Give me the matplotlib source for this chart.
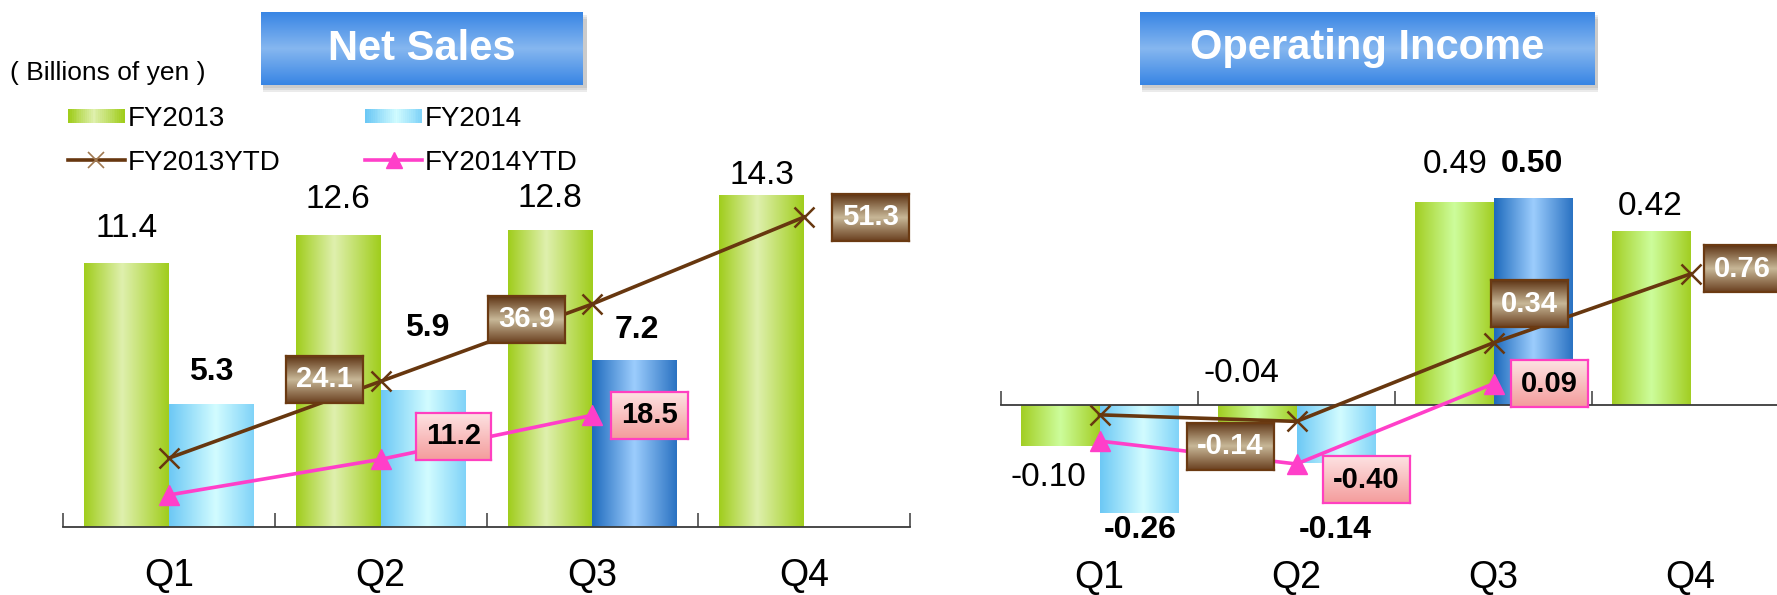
import numpy as np
import matplotlib
matplotlib.use('Agg')
import matplotlib.pyplot as plt
from matplotlib.colors import LinearSegmentedColormap
from matplotlib.patches import Rectangle, Patch
from matplotlib.lines import Line2D
from matplotlib.legend_handler import HandlerBase

plt.rcParams['font.family'] = ['Liberation Sans', 'DejaVu Sans']

quarters = ['Q1', 'Q2', 'Q3', 'Q4']

# net sales (billions of yen)
sales_fy13 = [11.4, 12.6, 12.8, 14.3]
sales_fy14 = [5.3, 5.9, 7.2]
sales_ytd13 = [11.4, 24.1, 36.9, 51.3]
sales_ytd14 = [5.3, 11.2, 18.5]

# operating income (billions of yen)
op_fy13 = [-0.10, -0.04, 0.49, 0.42]
op_fy14 = [-0.26, -0.14, 0.50]
op_ytd13 = [-0.10, -0.14, 0.34, 0.76]
op_ytd14 = [-0.26, -0.40, 0.09]

W, H = 1777, 595
BROWN = '#67370f'
PINK = '#ff3fc9'


def cmap(*stops):
    return LinearSegmentedColormap.from_list('', list(stops))


green_cm = cmap((0, '#a0cd1c'), (0.45, '#dff0ae'), (1, '#a0cd1c'))
green2_cm = cmap((0, '#a2ce22'), (0.5, '#cdfd9c'), (1, '#a2ce22'))
blue_cm = cmap((0, '#6cc8f5'), (0.55, '#d2fcff'), (1, '#80d3f8'))
dblue_cm = cmap((0, '#1d6abd'), (0.5, '#9ccdfd'), (1, '#2a72c2'))
title_cm = cmap((0, '#3885e4'), (0.5, '#86b7f0'), (1, '#3885e4'))
brown_cm = cmap((0, '#5e3414'), (0.5, '#c8b898'), (1, '#6a4020'))
pink_cm = cmap((0, '#fde2e2'), (1, '#f49c9c'))

hgrad = np.linspace(0, 1, 256).reshape(1, -1)
vgrad = np.linspace(0, 1, 128).reshape(-1, 1)

fig = plt.figure(figsize=(W / 100, H / 100), dpi=100)
renderer = fig.canvas.get_renderer()


class GradientPatchHandler(HandlerBase):
    def __init__(self, cm, n=30):
        super().__init__()
        self.cm = cm
        self.n = n

    def create_artists(self, legend, orig_handle, xdescent, ydescent,
                       width, height, fontsize, trans):
        h = height * 0.7
        y0 = -ydescent + (height - h) / 2
        step = width / self.n
        return [Rectangle((-xdescent + i * step, y0), step * 1.05, h,
                          facecolor=self.cm(i / (self.n - 1)),
                          edgecolor='none', transform=trans)
                for i in range(self.n)]


def fill_gradient(ax, bar, cm):
    x, y = bar.get_xy()
    w, h = bar.get_width(), bar.get_height()
    im = ax.imshow(hgrad, cmap=cm, extent=[x, x + w, y, y + h],
                   aspect='auto', zorder=2, interpolation='bicubic')
    im.set_clip_path(bar)
    bar.set_facecolor('none')
    bar.set_edgecolor('none')


def value_box(ax, x, y, text, dx, dy, cm, edge, color):
    probe = fig.text(0, 0, text, fontsize=21, fontweight='bold')
    tw = probe.get_window_extent(renderer).width
    probe.remove()
    bw, bh = tw + 20, 47
    cx, cy = ax.transData.transform((x, y))
    cx += dx
    cy += dy
    bax = fig.add_axes([(cx - bw / 2) / W, (cy - bh / 2) / H, bw / W, bh / H])
    bax.imshow(vgrad, cmap=cm, aspect='auto', extent=[0, 1, 0, 1])
    bax.set_xticks([])
    bax.set_yticks([])
    for s in bax.spines.values():
        s.set_edgecolor(edge)
        s.set_linewidth(1.6)
    bax.text(0.5, 0.5, text, transform=bax.transAxes, ha='center',
             va='center', fontsize=21, fontweight='bold', color=color)


def title_box(x0, y0, w, h, text):
    for k in range(3):
        fig.add_artist(Rectangle(((x0 + 2) / W, (H - y0 - h - 3 - 2 * k) / H),
                                 (w + 2) / W, h / H, transform=fig.transFigure,
                                 facecolor='#606060', alpha=0.12,
                                 edgecolor='none', zorder=-1))
    tax = fig.add_axes([x0 / W, (H - y0 - h) / H, w / W, h / H])
    tax.imshow(vgrad, cmap=title_cm, aspect='auto', extent=[0, 1, 0, 1])
    tax.axis('off')
    tax.text(0.5, 0.5, text, ha='center', va='center', color='white',
             fontsize=30, fontweight='bold', transform=tax.transAxes)


def panel(ax, fy13, fy14, ytd13, ytd14, ylim, ylim2, g_cm, fmt,
          g_off, b_off, br_off, pk_off, q_y):
    x = np.arange(len(quarters))
    b13 = ax.bar(x - 0.2, fy13, 0.4)
    b14 = ax.bar(x[:len(fy14)] + 0.2, fy14, 0.4)
    for b in b13:
        fill_gradient(ax, b, g_cm)
    for i, b in enumerate(b14):
        fill_gradient(ax, b, dblue_cm if i == len(fy14) - 1 else blue_cm)

    ax.set_xlim(-0.5, 3.5)
    ax.set_ylim(*ylim)
    ax.set_xticks([])
    ax.set_xticks(np.arange(-0.5, 4, 1), minor=True)
    ax.tick_params(axis='x', which='minor', direction='in', length=10,
                   width=1.1, color='#3a3a3a')
    ax.set_yticks([])
    for s in ('left', 'right', 'top'):
        ax.spines[s].set_visible(False)
    ax.spines['bottom'].set_position(('data', 0))
    ax.spines['bottom'].set_color('#3a3a3a')
    ax.spines['bottom'].set_linewidth(1.3)
    ax.patch.set_visible(False)

    for i, q in enumerate(quarters):
        ax.text(i, q_y, q, transform=ax.get_xaxis_transform(), ha='center',
                va='center', fontsize=27)

    for i, v in enumerate(fy13):
        ax.annotate(fmt.format(v), (x[i] - 0.2, v), xytext=g_off[i],
                    textcoords='offset pixels', ha='center', va='center',
                    fontsize=24, zorder=5)
    for i, v in enumerate(fy14):
        ax.annotate(fmt.format(v), (x[i] + 0.2, v), xytext=b_off[i],
                    textcoords='offset pixels', ha='center', va='center',
                    fontsize=23, fontweight='bold', zorder=5)

    ax2 = ax.twinx()
    ax2.plot(x, ytd13, color=BROWN, lw=2.6, marker='x', ms=14, mew=1.8,
             zorder=4)
    ax2.plot(x[:len(ytd14)], ytd14, color=PINK, lw=2.6, marker='^', ms=14,
             zorder=4)
    ax2.set_ylim(*ylim2)
    ax2.set_yticks([])
    for s in ax2.spines.values():
        s.set_visible(False)

    for i in range(1, len(ytd13)):
        value_box(ax2, x[i], ytd13[i], fmt.format(ytd13[i]), *br_off[i - 1],
                  brown_cm, '#6b3a12', 'white')
    for i in range(1, len(ytd14)):
        value_box(ax2, x[i], ytd14[i], fmt.format(ytd14[i]), *pk_off[i - 1],
                  pink_cm, '#ff40c0', 'black')
    return ax2


# Net Sales
ax_s = fig.add_axes([63 / W, (H - 527) / H, 847 / W, 371 / H])
ax_s2 = panel(ax_s, sales_fy13, sales_fy14, sales_ytd13, sales_ytd14,
              (0, 16), (0, 61.4), green_cm, '{:.1f}',
              g_off=[(0, 34), (0, 35), (0, 32), (0, 20)],
              b_off=[(0, 32), (4, 62), (2, 30)],
              br_off=[(-56, 2), (-66, -15), (66, 0)],
              pk_off=[(73, 23), (57, 0)],
              q_y=-0.132)

# Operating Income
ax_o = fig.add_axes([1001 / W, (H - 529.5) / H, 788 / W, 373.5 / H])
ax_o2 = panel(ax_o, op_fy13, op_fy14, op_ytd13, op_ytd14,
              (-0.3, 0.6), (-0.8, 1.48), green2_cm, '{:.2f}',
              g_off=[(-12, -31), (-16, 48), (1, 37), (-1, 24)],
              b_off=[(1, -17), (-1, -67), (-1, 34)],
              br_off=[(-66, -25), (36, 39), (52, 5)],
              pk_off=[(70, -16), (56, 0)],
              q_y=-0.13)

title_box(261, 12, 322, 73, 'Net Sales')
title_box(1140, 12, 454, 73, 'Operating Income')

fig.text(10 / W, 1 - 73 / H, '( Billions of yen )', va='center', fontsize=19)

h13 = Patch(label='FY2013')
h14 = Patch(label='FY2014')
l13 = Line2D([], [], color=BROWN, lw=2.6, marker='x', ms=12, mew=1.2,
             markeredgecolor='#a07850', label='FY2013YTD')
l14 = Line2D([], [], color=PINK, lw=2.6, marker='^', ms=12, label='FY2014YTD')
ax_s2.legend(handles=[h13, l13, h14, l14], ncol=2, frameon=False,
             loc='upper left', bbox_to_anchor=(68 / W, 1 - 106 / H),
             bbox_transform=fig.transFigure, fontsize=20, borderpad=0,
             borderaxespad=0, handlelength=2.05, handletextpad=0.1,
             labelspacing=0.63, columnspacing=3.05,
             handler_map={h13: GradientPatchHandler(green_cm),
                          h14: GradientPatchHandler(blue_cm)})

fig.savefig('out.png', dpi=100)
